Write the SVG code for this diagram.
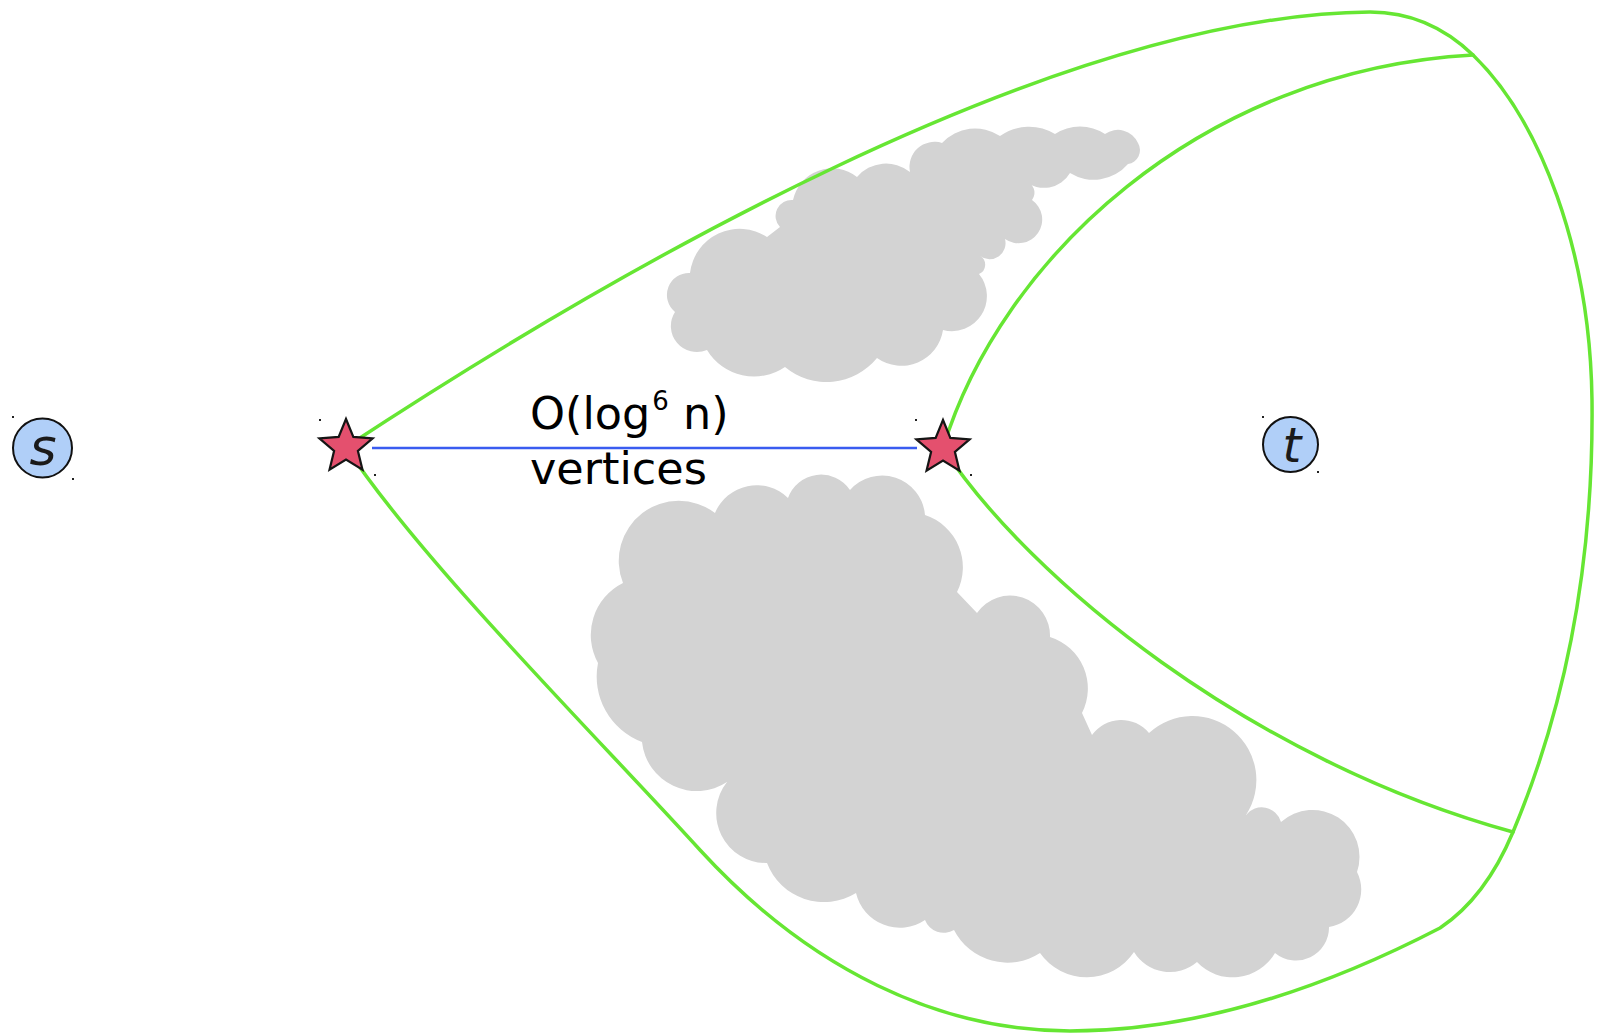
<svg xmlns="http://www.w3.org/2000/svg" width="1598" height="1033" viewBox="0 0 1598 1033">
  <style>
    .edge { fill: none; stroke: #66e633; stroke-width: 3.5; stroke-linecap: round; stroke-linejoin: round; }
    .link { stroke: #3a5cf0; stroke-width: 2.5; }
    .cloud { fill: #d3d3d3; }
    .node-circle { fill: #b0cff8; stroke: #111; stroke-width: 2; }
    .star { fill: #e4506e; stroke: #151515; stroke-width: 2.2; stroke-linejoin: miter; }
    .dot { fill: #222; }
    .lbl { font-family: "DejaVu Sans", "Liberation Sans", sans-serif; fill: #000; white-space: pre; }
    .node-lbl { font-family: "DejaVu Sans", "Liberation Sans", sans-serif; font-style: italic; fill: #1a1a1a; text-anchor: middle; }
  </style>
  <defs>
    <polygon id="star-shape" points="0,-28 7.35,-10.1 26.63,-8.65 11.89,3.86 16.46,22.65 0,12.5 -16.46,22.65 -11.89,3.86 -26.63,-8.65 -7.35,-10.1"/>
  </defs>

  <rect width="1598" height="1033" fill="#fff"/>

  <!-- grey cloud regions -->
  <g id="clouds">
    <path id="cloud-upper" class="cloud" d="M 910,172 A 25 25 0 0 1 942,143 A 45 45 0 0 1 1000,136 A 50 50 0 0 1 1055,134 A 45 45 0 0 1 1105,134 A 22 22 0 0 1 1138,143 A 14 14 0 0 1 1128,164 A 45 45 0 0 1 1070,173 A 30 30 0 0 1 1025,181 A 12 12 0 0 1 1032,200 A 22 22 0 0 1 1005,239 A 16 16 0 0 1 980,256 A 10 10 0 0 1 979,274 A 35 35 0 0 1 943,330 A 42 42 0 0 1 877,358 A 65 65 0 0 1 785,367 A 55 55 0 0 1 707,350 A 26 26 0 0 1 675,312 A 22 22 0 0 1 690,273 A 50 50 0 0 1 767,237 L 780,227 A 16 16 0 0 1 793,200 A 40 40 0 0 1 857,177 A 38 38 0 0 1 910,172 Z"/>
    <path id="cloud-lower" class="cloud" d="M 715,513 A 45 45 0 0 1 788,498 A 35 35 0 0 1 850,490 A 43 43 0 0 1 925,515 A 55 55 0 0 1 957,592 L 977,613 A 40 40 0 0 1 1050,637 A 54 54 0 0 1 1082,713 L 1092,735 A 36 36 0 0 1 1149,733 A 64 64 0 0 1 1246,815 A 20 20 0 0 1 1281,822 A 47 47 0 0 1 1357,872 A 38 38 0 0 1 1329,927 A 33 33 0 0 1 1275,953 A 49 49 0 0 1 1197,962 A 42 42 0 0 1 1134,952 A 57 57 0 0 1 1040,953 A 60 60 0 0 1 954,930 A 20 20 0 0 1 925,920 A 45 45 0 0 1 856,893 A 61 61 0 0 1 767,863 A 50 50 0 0 1 727,782 A 55 55 0 0 1 642,742 A 70 70 0 0 1 598,663 A 58 58 0 0 1 623,583 A 60 60 0 0 1 715,513 Z"/>
  </g>

  <!-- connectors -->
  <g id="connectors">
    <path id="outer-loop" class="edge" d="M 346,447 C 600,280 1050,15 1370,12 C 1410,12 1445,28 1473,55 C 1540,120 1590,250 1592,400 C 1594,580 1560,720 1513,832 C 1495,875 1470,908 1440,928 C 1330,985 1200,1031 1070,1031 C 940,1031 810,970 700,850 C 600,740 420,560 346,447"/>
    <path id="upper-branch" class="edge" d="M 943,448 C 1000,260 1200,70 1473,55"/>
    <path id="lower-branch" class="edge" d="M 943,448 C 1030,580 1250,760 1513,832"/>
    <line id="star-link" class="link" x1="372" y1="448" x2="917" y2="448"/>
  </g>

  <!-- left star -->
  <g id="star-left">
    <use href="#star-shape" class="star" x="346" y="447"/>
    <rect class="dot" x="319" y="419" width="2" height="2"/>
    <rect class="dot" x="374" y="474" width="2" height="2"/>
  </g>

  <!-- right star -->
  <g id="star-right">
    <use href="#star-shape" class="star" x="943" y="448"/>
    <rect class="dot" x="915" y="419" width="2" height="2"/>
    <rect class="dot" x="970" y="474" width="2" height="2"/>
  </g>

  <!-- source node -->
  <g id="node-s">
    <circle class="node-circle" cx="42.5" cy="448" r="29.5"/>
    <text class="node-lbl" x="43" y="465" font-size="52">s</text>
    <rect class="dot" x="12" y="416" width="2" height="2"/>
    <rect class="dot" x="72" y="478" width="2" height="2"/>
  </g>

  <!-- target node -->
  <g id="node-t">
    <circle class="node-circle" cx="1290.5" cy="444.5" r="27.5"/>
    <text class="node-lbl" x="1292" y="462" font-size="48">t</text>
    <rect class="dot" x="1262" y="416" width="2" height="2"/>
    <rect class="dot" x="1317" y="471" width="2" height="2"/>
  </g>

  <!-- edge label -->
  <g id="label">
    <text class="lbl" x="530" y="429" font-size="44.5">O(log<tspan font-size="26" dx="2" dy="-19">6</tspan><tspan dy="19"> n)</tspan></text>
    <text class="lbl" x="530" y="484" font-size="44.5">vertices</text>
  </g>
</svg>
